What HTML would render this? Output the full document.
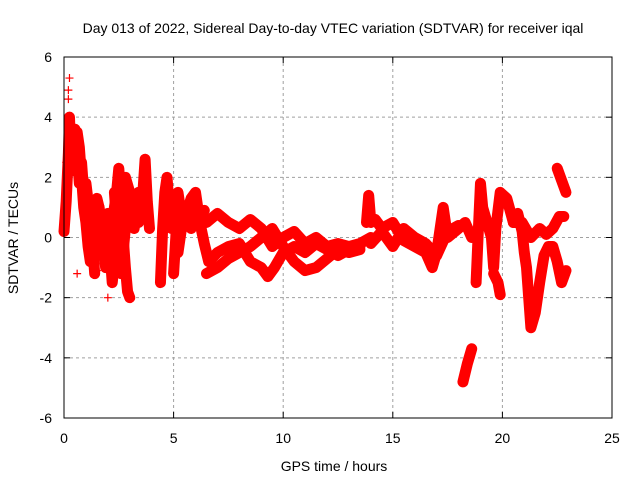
<!DOCTYPE html>
<html><head><meta charset="utf-8">
<style>
body{margin:0;background:#fff;}
svg{display:block;font-family:"Liberation Sans",sans-serif;}
</style></head>
<body>
<svg id="chart" width="640" height="480">
<rect width="640" height="480" fill="#fff"/>
<text x="333" y="33" text-anchor="middle" font-size="14">Day 013 of 2022, Sidereal Day-to-day VTEC variation (SDTVAR) for receiver iqal</text>
<text x="334" y="471" text-anchor="middle" font-size="14">GPS time / hours</text>
<text transform="translate(18,238) rotate(-90)" text-anchor="middle" font-size="14">SDTVAR / TECUs</text>
<g id="grid"></g><g id="ticks"></g><g id="marks"></g>
<rect x="64" y="57" width="548" height="361" fill="none" stroke="#000"/>
</svg>
<script>
const xTicks=[0,5,10,15,20,25];
const yTicks=[-6,-4,-2,0,2,4,6];
const track1T=[0,0.1,0.15,0.2,0.25,0.3,0.4,0.5,0.6,0.7,0.8,0.9,1.0,1.1,1.2,1.3,1.4,1.5,1.6];
const track1V=[0.2,1.2,2.0,2.8,4.0,3.0,2.5,3.3,3.5,3.0,2.0,1.0,0.5,-0.3,-0.8,-0.5,0.8,1.3,1.0];
const track1bT=[0.3,0.4,0.5,0.6,0.7,0.8,0.9,1.0,1.1,1.2,1.3,1.4];
const track1bV=[2.2,3.0,3.6,2.8,1.8,2.5,1.5,1.8,1.2,0.6,-0.2,-1.2];
const track2T=[1.6,1.7,1.8,1.9,2.0,2.2,2.4,2.5,2.6,2.7,2.8,2.9,3.0];
const track2V=[1.0,0.5,-0.5,-1.0,-0.2,0.5,1.5,2.3,1.2,0,-1.0,-1.8,-2.0];
const track3T=[2.0,2.1,2.2,2.3,2.5,2.7,2.8,3.0,3.2,3.4,3.6,3.7,3.8,3.9];
const track3V=[0.8,-0.5,-1.5,-0.8,0.2,1.5,2.0,1.5,1.0,0.5,1.5,2.6,1.2,0.3];
const track3bT=[2.3,2.4,2.5,2.6,2.8,3.0,3.2,3.4,3.6];
const track3bV=[1.5,0.5,-0.8,-1.2,0.3,1.0,0.3,1.5,1.0];
const track4T=[4.4,4.5,4.6,4.7,4.8,4.9];
const track4V=[-1.5,0.3,1.5,2.0,1.0,0.3];
const track5T=[5.0,5.1,5.2,5.3,5.5,5.8,6.0,6.2,6.4,6.6,7.0,7.5,8.0,8.5,9.0,9.3,9.6,10,10.5,11,11.5,12,12.5,13,13.5];
const track5V=[-1.2,0,1.5,1.0,0.6,1.3,1.5,0.5,-0.2,-0.8,-0.5,-0.3,-0.2,-0.8,-1.0,-1.3,-1.0,-0.5,-0.3,-0.5,-0.2,-0.4,-0.6,-0.4,-0.3];
const track5bT=[5.2,5.4,5.6,5.8,6.0,6.2,6.4];
const track5bV=[-0.5,0.5,1.0,0.3,1.2,0.8,0.9];
const track6T=[6.0,6.5,7.0,7.5,8.0,8.5,9.0,9.5,10,10.5,11,11.5,12,12.5,13,13.5,14];
const track6V=[1.0,0.5,0.8,0.5,0.3,0.6,0.3,-0.3,0,0.2,-0.2,0,-0.3,-0.2,-0.3,-0.2,0];
const track7T=[6.5,7,7.5,8,8.5,9,9.5,10,10.5,11,11.5,12,12.5,13,13.5];
const track7V=[-1.2,-1.0,-0.7,-0.5,-0.3,0,0.3,-0.3,-0.8,-1.1,-1.0,-0.7,-0.4,-0.5,-0.4];
const track8T=[13.8,13.9,14.0,14.2,14.5,15,15.5,16,16.5,16.8,17,17.3,17.5,18,18.3,18.6];
const track8V=[0.5,1.4,0.5,0.6,0.3,0.5,-0.1,-0.3,-0.5,-1.0,-0.5,1.0,0,0.3,0.5,0];
const track8bT=[14.0,14.5,15.0,15.5,16.0,16.5,17.0,17.5,18.0];
const track8bV=[-0.2,0.2,-0.3,0.3,0.0,-0.2,-0.6,0.2,0.4];
const track9T=[18.2,18.4,18.6];
const track9V=[-4.8,-4.2,-3.7];
const track10T=[18.8,18.9,19,19.1,19.3,19.5,19.6,19.7,19.9,20.2,20.5,20.7,20.9,21.0,21.1,21.2,21.3,21.5,21.7,21.9,22.1,22.3,22.5,22.7,22.9];
const track10V=[-1.5,0.2,1.8,1.0,0.5,0,-1.0,0.3,1.5,1.3,0.5,0.8,0.2,-0.5,-1.0,-2.0,-3.0,-2.5,-1.5,-0.6,-0.3,-0.3,-0.8,-1.5,-1.1];
const track11T=[19.6,19.8,19.9];
const track11V=[-1.2,-1.5,-1.9];
const track12T=[20.5,20.9,21.3,21.7,22,22.3,22.6,22.8];
const track12V=[0.5,0.5,0,0.3,0.1,0.3,0.7,0.7];
const track13T=[22.5,22.7,22.9];
const track13V=[2.3,1.9,1.5];
const outlierT=[0.2,0.2,0.25,0.05,0.1,2.0,0.6,1.5];
const outlierV=[4.6,4.9,5.3,1.2,2.5,-2.0,-1.2,-1.1];

const NS="http://www.w3.org/2000/svg";
const X=t=>64+t*(548/25);
const Y=v=>237.5-v*(361/12);
function mk(tag,attrs,parent){const e=document.createElementNS(NS,tag);for(const k in attrs)e.setAttribute(k,attrs[k]);parent.appendChild(e);return e;}
const grid=document.getElementById('grid'),ticks=document.getElementById('ticks'),marks=document.getElementById('marks');
xTicks.forEach(t=>{
  if(t>0&&t<25){const g=mk('line',{x1:X(t),x2:X(t),y1:57,y2:418,stroke:'#a0a0a0','stroke-dasharray':'3,3'},grid);
  
  }
  mk('line',{x1:X(t),x2:X(t),y1:418,y2:412,stroke:'#000'},ticks);
  mk('line',{x1:X(t),x2:X(t),y1:57,y2:63,stroke:'#000'},ticks);
  const l=mk('text',{x:X(t),y:443,'text-anchor':'middle','font-size':14},ticks);l.textContent=t;
  
  
});
yTicks.forEach(v=>{
  if(v>-6&&v<6){const g=mk('line',{x1:64,x2:612,y1:Y(v),y2:Y(v),stroke:'#a0a0a0','stroke-dasharray':'3,3'},grid);
  
  }
  mk('line',{x1:64,x2:70,y1:Y(v),y2:Y(v),stroke:'#000'},ticks);
  mk('line',{x1:612,x2:606,y1:Y(v),y2:Y(v),stroke:'#000'},ticks);
  const l=mk('text',{x:52,y:Y(v)+5,'text-anchor':'end','font-size':14},ticks);l.textContent=v;
  
  
});
const tracks=[[track1T,track1V],[track1bT,track1bV],[track2T,track2V],[track3T,track3V],[track3bT,track3bV],[track4T,track4V],[track5T,track5V],[track5bT,track5bV],[track6T,track6V],[track7T,track7V],[track8T,track8V],[track8bT,track8bV],[track9T,track9V],[track10T,track10V],[track11T,track11V],[track12T,track12V],[track13T,track13V]];
tracks.forEach(([ts,vs],i)=>{
  const pts=ts.map((t,j)=>X(t)+','+Y(vs[j])).join(' ');
  const p=mk('polyline',{points:pts,fill:'none',stroke:'#ff0000','stroke-width':11,'stroke-linejoin':'round','stroke-linecap':'round'},marks);
  
  
  ts.forEach((t,j)=>{
    const x=X(t),y=Y(vs[j]);
    const m=mk('path',{d:`M${x-4},${y}h8M${x},${y-4}v8`,stroke:'#ff0000','stroke-width':1.2},marks);
    
    
  });
});
outlierT.forEach((t,j)=>{
  const x=X(t),y=Y(outlierV[j]);
  const m=mk('path',{d:`M${x-4},${y}h8M${x},${y-4}v8`,stroke:'#ff0000','stroke-width':1.2},marks);
  
  
});
</script>
</body></html>
